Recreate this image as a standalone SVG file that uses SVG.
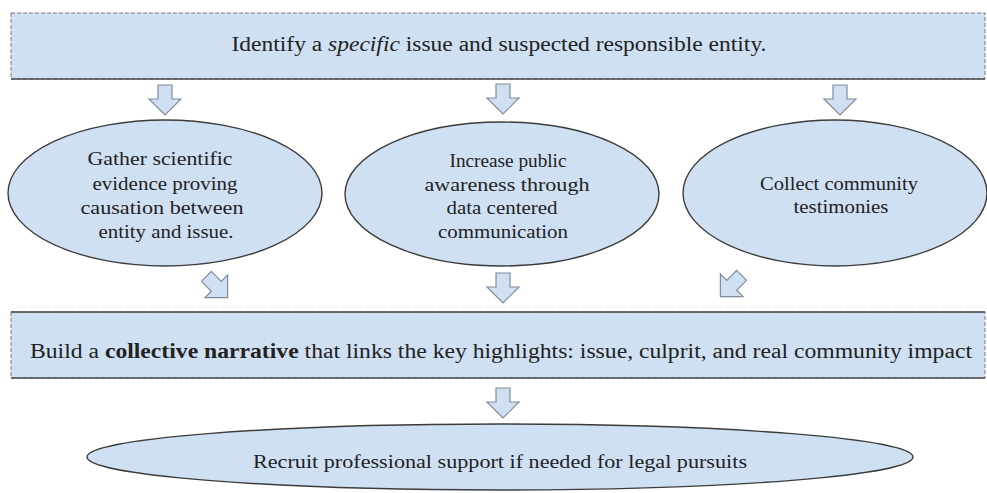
<svg xmlns="http://www.w3.org/2000/svg" xmlns:xlink="http://www.w3.org/1999/xlink" width="987" height="493" viewBox="0 0 987 493">
  <style>
    .box { fill: #cfe0f3; stroke: #7a7a7a; stroke-width: 1; stroke-dasharray: 4 2; }
    .edge { stroke: #4a4a4a; stroke-width: 1.6; fill: none; }
    .oval { fill: #cfe0f3; stroke: #3c3c3c; stroke-width: 1.4; }
    .arrow { fill: #cfe0f3; stroke: #7f8c9c; stroke-width: 1.2; stroke-linejoin: miter; }
    .lbl { fill: #222; text-anchor: middle; font-family: "Liberation Serif", Tinos, "Times New Roman", "DejaVu Serif", "Noto Serif", serif; }
    .t20 { font-size: 20.5px; }
    .t18 { font-size: 18.5px; }
  </style>
  <defs>
    <!-- block arrow pointing down, centred on its own middle -->
    <path id="blockArrow" d="M-7,-15 H7 V-1 H16 L0,15 L-16,-1 H-7 Z"/>
  </defs>

  <g id="identify">
    <rect class="box" x="11" y="13" width="974" height="66"/>
    <line class="edge" x1="11" y1="79" x2="985" y2="79"/>
    <text class="lbl t20" x="499" y="51" textLength="535" lengthAdjust="spacingAndGlyphs">Identify a <tspan font-style="italic">specific</tspan> issue and suspected responsible entity.</text>
  </g>

  <g id="evidence">
    <ellipse class="oval" cx="165" cy="193" rx="157" ry="73"/>
    <g class="lbl t18">
      <text x="160" y="165" textLength="145" lengthAdjust="spacingAndGlyphs">Gather scientific</text>
      <text x="165" y="190" textLength="145" lengthAdjust="spacingAndGlyphs">evidence proving</text>
      <text x="162" y="214" textLength="163" lengthAdjust="spacingAndGlyphs">causation between</text>
      <text x="166" y="238" textLength="135" lengthAdjust="spacingAndGlyphs">entity and issue.</text>
    </g>
  </g>

  <g id="awareness">
    <ellipse class="oval" cx="502" cy="194" rx="157" ry="72"/>
    <g class="lbl t18">
      <text x="508" y="167" textLength="117" lengthAdjust="spacingAndGlyphs">Increase public</text>
      <text x="507" y="191" textLength="165" lengthAdjust="spacingAndGlyphs">awareness through</text>
      <text x="502" y="214" textLength="111" lengthAdjust="spacingAndGlyphs">data centered</text>
      <text x="503" y="238" textLength="130" lengthAdjust="spacingAndGlyphs">communication</text>
    </g>
  </g>

  <g id="testimonies">
    <ellipse class="oval" cx="835" cy="193" rx="152" ry="73"/>
    <g class="lbl t18">
      <text x="839" y="190" textLength="158" lengthAdjust="spacingAndGlyphs">Collect community</text>
      <text x="841" y="213" textLength="95" lengthAdjust="spacingAndGlyphs">testimonies</text>
    </g>
  </g>

  <g id="narrative">
    <rect class="box" x="11" y="312" width="974" height="66"/>
    <line class="edge" x1="11" y1="312" x2="985" y2="312"/>
    <line class="edge" x1="11" y1="378" x2="985" y2="378"/>
    <text class="lbl t20" x="501" y="358" textLength="942" lengthAdjust="spacingAndGlyphs">Build a <tspan font-weight="bold">collective narrative</tspan> that links the key highlights: issue, culprit, and real community impact</text>
  </g>

  <g id="recruit">
    <ellipse class="oval" cx="500" cy="457" rx="413" ry="33"/>
    <text class="lbl t18" x="500" y="468" textLength="494" lengthAdjust="spacingAndGlyphs">Recruit professional support if needed for legal pursuits</text>
  </g>

  <g id="connectors">
    <use xlink:href="#blockArrow" class="arrow" transform="translate(165,100)"/>
    <use xlink:href="#blockArrow" class="arrow" transform="translate(503,99)"/>
    <use xlink:href="#blockArrow" class="arrow" transform="translate(840,100)"/>
    <use xlink:href="#blockArrow" class="arrow" transform="translate(217,287) rotate(-45)"/>
    <use xlink:href="#blockArrow" class="arrow" transform="translate(503,288)"/>
    <use xlink:href="#blockArrow" class="arrow" transform="translate(731,286) rotate(45)"/>
    <use xlink:href="#blockArrow" class="arrow" transform="translate(503,403)"/>
  </g>
</svg>
